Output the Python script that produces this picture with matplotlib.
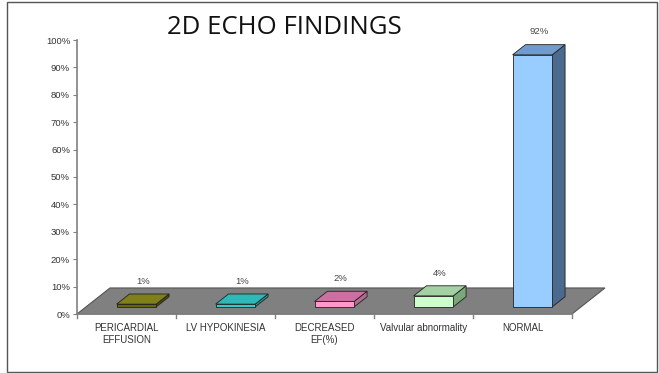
import matplotlib.pyplot as plt
from matplotlib.patches import Polygon, Rectangle

# 2D echo findings, percent of patients
categories = ["PERICARDIAL\nEFFUSION", "LV HYPOKINESIA", "DECREASED\nEF(%)",
              "Valvular abnormality", "NORMAL"]
values = [1, 1, 2, 4, 92]
labels = ["1%", "1%", "2%", "4%", "92%"]

front_colors = ["#666600", "#33cccc", "#ff99cc", "#ccffcc", "#99ccff"]
top_colors = ["#808019", "#2eb8b8", "#cc6fa3", "#a3d1a3", "#6f9ccc"]
side_colors = ["#4d4d00", "#269999", "#b36b93", "#7aa87a", "#4a6a8e"]

# pseudo-3d offsets in data units
floor_dx, floor_dy = 0.333, 9.5
bar_x0, bar_y0 = 0.10, 2.6
bar_w = 0.40
depth_dx, depth_dy = 0.13, 3.7

fig = plt.figure(figsize=(6.59, 3.73), dpi=100)
ax = fig.add_axes([77 / 659, 59 / 373, 495 / 659, 274 / 373])
ax.set_xlim(0, 5)
ax.set_ylim(0, 100)
for s in ["top", "right", "bottom"]:
    ax.spines[s].set_visible(False)
ax.spines["left"].set_color("#808080")
ax.spines["left"].set_linewidth(1.2)

ax.set_yticks(range(0, 101, 10))
ax.set_yticklabels([f"{v}%" for v in range(0, 101, 10)], fontsize=6.8,
                   color="#333333", family="Liberation Sans")
ax.tick_params(axis="y", length=3, color="#808080", pad=2)
ax.set_xticks([])

# floor
floor = Polygon([(0, 0), (5, 0), (5 + floor_dx, floor_dy), (floor_dx, floor_dy)],
                closed=True, facecolor="#808080", edgecolor="#555555",
                linewidth=0.8, clip_on=False, zorder=1)
ax.add_patch(floor)
ax.plot([0, 5], [0, 0], color="#808080", lw=1.2, clip_on=False, zorder=2)
for i in range(6):
    ax.plot([i, i], [0, -1.6], color="#808080", lw=1.0, clip_on=False, zorder=2)

for i, (v, lab) in enumerate(zip(values, labels)):
    x0 = i + 0.5 - bar_w / 2 + bar_x0
    x1 = x0 + bar_w
    y0 = bar_y0
    y1 = bar_y0 + v
    ec = "#222222"
    front = Rectangle((x0, y0), bar_w, v, facecolor=front_colors[i],
                      edgecolor=ec, linewidth=0.6, clip_on=False, zorder=3)
    top = Polygon([(x0, y1), (x1, y1), (x1 + depth_dx, y1 + depth_dy),
                   (x0 + depth_dx, y1 + depth_dy)], closed=True,
                  facecolor=top_colors[i], edgecolor=ec, linewidth=0.6,
                  clip_on=False, zorder=3)
    side = Polygon([(x1, y0), (x1 + depth_dx, y0 + depth_dy),
                    (x1 + depth_dx, y1 + depth_dy), (x1, y1)], closed=True,
                   facecolor=side_colors[i], edgecolor=ec, linewidth=0.6,
                   clip_on=False, zorder=3)
    ax.add_patch(side)
    ax.add_patch(top)
    ax.add_patch(front)
    ax.text((x0 + x1) / 2 + depth_dx / 2, y1 + depth_dy + 3.0, lab,
            ha="center", va="bottom", fontsize=6.8, color="#444444",
            family="Liberation Sans", clip_on=False)

for i, c in enumerate(categories):
    ax.text(i + 0.5, -3.3, c, ha="center", va="top", fontsize=7,
            color="#333333", family="Liberation Sans", linespacing=1.3,
            clip_on=False)

fig.text(284 / 659, 1 - 27 / 373, "2D ECHO FINDINGS", ha="center", va="center",
         fontsize=18.5, family="Open Sans", color="#111111")

# outer frame
fig.patches.append(Rectangle((7 / 659, 1 / 373), 650 / 659, 370 / 373,
                             transform=fig.transFigure, fill=False,
                             edgecolor="#555555", linewidth=1.0))

fig.savefig("out.png", dpi=100)
